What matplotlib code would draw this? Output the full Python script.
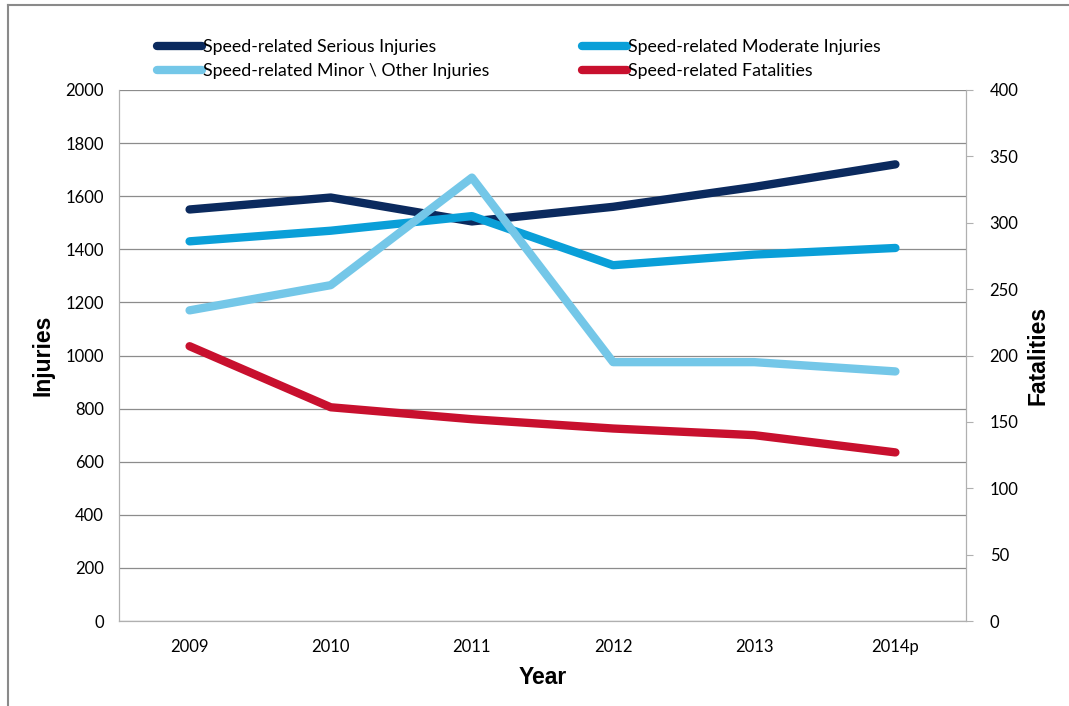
import matplotlib.pyplot as plt
from matplotlib.lines import Line2D

years = ["2009", "2010", "2011", "2012", "2013", "2014p"]
serious = [1550, 1595, 1505, 1560, 1635, 1720]
moderate = [1430, 1470, 1525, 1340, 1380, 1405]
minor = [1170, 1265, 1670, 975, 975, 940]
fatalities = [207, 161, 152, 145, 140, 127]

c_serious = "#0B2A5E"
c_moderate = "#0A9FD8"
c_minor = "#74C7E8"
c_fatal = "#C8102E"

plt.rcParams["font.family"] = ["Lato", "DejaVu Sans"]

fig = plt.figure(figsize=(10.69, 7.06), dpi=100)
ax = fig.add_axes([119/1069, 85/706, 847/1069, 531/706])
ax2 = ax.twinx()

x = list(range(len(years)))
lw = 6
ax.plot(x, serious, color=c_serious, lw=lw, solid_capstyle="round", zorder=3)
ax.plot(x, moderate, color=c_moderate, lw=lw, solid_capstyle="round", zorder=3)
ax.plot(x, minor, color=c_minor, lw=lw, solid_capstyle="round", zorder=3)
ax2.plot(x, fatalities, color=c_fatal, lw=lw, solid_capstyle="round", zorder=3)

ax.set_xlim(-0.5, len(years) - 0.5)
ax.set_ylim(0, 2000)
ax.set_yticks(range(0, 2001, 200))
ax2.set_ylim(0, 400)
ax2.set_yticks(range(0, 401, 50))
ax.set_xticks(x)
ax.set_xticklabels(years)

ax.grid(axis="y", color="#8c8c8c", lw=0.9)
ax.set_axisbelow(True)
for a in (ax, ax2):
    for s in a.spines.values():
        s.set_color("#b0b0b0")
    a.spines["top"].set_visible(False)
ax.tick_params(axis="y", length=0, labelsize=12, pad=11)
ax.tick_params(axis="x", length=0, labelsize=12, pad=13)
ax2.tick_params(axis="y", length=5, color="#b0b0b0", labelsize=12, pad=12)

ax.set_ylabel("Injuries", fontsize=16.5, fontweight="bold", family="Liberation Sans", labelpad=8)
ax2.set_ylabel("Fatalities", fontsize=16.5, fontweight="bold", family="Liberation Sans", labelpad=6)
ax.set_xlabel("Year", fontsize=16.5, fontweight="bold", family="Liberation Sans", labelpad=8)

handles = [
    Line2D([], [], color=c_serious, lw=6, solid_capstyle="round"),
    Line2D([], [], color=c_minor, lw=6, solid_capstyle="round"),
    Line2D([], [], color=c_moderate, lw=6, solid_capstyle="round"),
    Line2D([], [], color=c_fatal, lw=6, solid_capstyle="round"),
]
labels = [
    "Speed-related Serious Injuries",
    "Speed-related Minor \\ Other Injuries",
    "Speed-related Moderate Injuries",
    "Speed-related Fatalities",
]
fig.legend(handles, labels, ncol=2, frameon=False, fontsize=12.8,
           loc="upper left", bbox_to_anchor=(150/1069, 1 - 32/706),
           handlelength=2.5, handletextpad=0.1, columnspacing=5.2,
           labelspacing=0.45, borderaxespad=0)

# outer chart border
fig.add_artist(Line2D([8/1069, 8/1069], [0, 1 - 5/706], color="#8a8a8a", lw=1.5))
fig.add_artist(Line2D([8/1069, 1], [1 - 5/706, 1 - 5/706], color="#8a8a8a", lw=1.5))

fig.savefig("out.png", dpi=100)
